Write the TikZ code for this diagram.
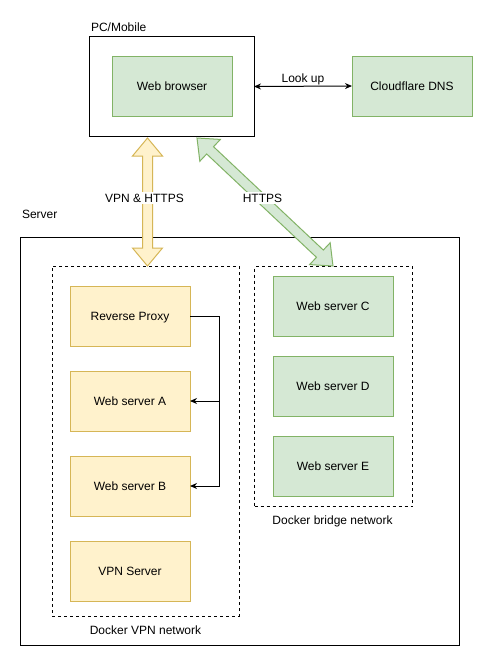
\documentclass[tikz,border=0pt]{standalone}
\usepackage{fontspec}
\setmainfont{Liberation Sans}
\usetikzlibrary{calc,arrows.meta}
\definecolor{gfill}{HTML}{D5E8D4}
\definecolor{gline}{HTML}{82B366}
\definecolor{yfill}{HTML}{FFF2CC}
\definecolor{yline}{HTML}{D6B656}
\newcommand\fatarrow[3]{%
  \coordinate (#1-a1) at ($(#1)!18pt!(#2)$);
  \coordinate (#1-b1) at ($(#2)!18pt!(#1)$);
  \filldraw[#3] (#1) -- ($(#1-a1)!15pt!90:(#2)$) -- ($(#1-a1)!5pt!90:(#2)$)
    -- ($(#1-b1)!5pt!-90:(#1)$) -- ($(#1-b1)!15pt!-90:(#1)$) -- (#2)
    -- ($(#1-b1)!15pt!90:(#1)$) -- ($(#1-b1)!5pt!90:(#1)$)
    -- ($(#1-a1)!5pt!-90:(#2)$) -- ($(#1-a1)!15pt!-90:(#2)$) -- cycle;}
\begin{document}
\begin{tikzpicture}[x=1pt,y=-1pt,
  font=\fontsize{12}{14}\selectfont,
  every node/.style={inner sep=0pt, outer sep=0pt, text height=8.6pt, text depth=0pt},
  gbox/.style={draw=gline, fill=gfill, line width=1pt, minimum width=120pt, minimum height=60pt},
  ybox/.style={draw=yline, fill=yfill, line width=1pt, minimum width=120pt, minimum height=60pt},
  net/.style={draw=black, line width=0.8pt, dash pattern=on 3pt off 3pt},
  lbl/.style={fill=white, inner sep=2pt},
  conn/.style={draw=black, line width=1pt, -{Stealth[length=7pt,width=6pt]}},
  gfat/.style={draw=gline, fill=gfill, line width=1pt, line join=miter},
  yfat/.style={draw=yline, fill=yfill, line width=1pt, line join=miter}]
\useasboundingbox (0,0) rectangle (494,667);
\fill[white] (0,0) rectangle (494,667);
% containers
\node[draw=black, line width=1pt, minimum width=165pt, minimum height=100pt] (pc) at (171.5,86.5) {};
\node[anchor=west] (pclbl) at (91,27) {PC/Mobile};
\node[draw=black, line width=1pt, minimum width=439pt, minimum height=408pt] (server) at (239.5,441) {};
\node[anchor=west] (serverlbl) at (22,214) {Server};
\node[net, minimum width=187pt, minimum height=350pt] (vpnnet) at (145.5,441) {};
\node (vpnlbl) at (145.5,630) {Docker VPN network};
\node[net, minimum width=158pt, minimum height=240pt] (brnet) at (333.5,386.5) {};
\node (brlbl) at (332.5,520) {Docker bridge network};
% nodes
\node[gbox] (wb) at (172,86) {Web browser};
\node[gbox] (dns) at (412,86) {Cloudflare DNS};
\node[ybox] (rp) at (130,316) {Reverse Proxy};
\node[ybox] (wa) at (130,401) {Web server A};
\node[ybox] (wbb) at (130,486) {Web server B};
\node[ybox] (vpn) at (130,571) {VPN Server};
\node[gbox] (wc) at (333,306) {Web server C};
\node[gbox] (wd) at (333,386) {Web server D};
\node[gbox] (we) at (333,466) {Web server E};
% connectors
\draw[line width=1pt, {Stealth[length=7pt,width=6pt]}-{Stealth[length=7pt,width=6pt]}] (pc.east) -- (dns.west)
  node[midway, above=4pt] {Look up};
\coordinate (bus) at (219,316);
\draw[conn] (rp.east) -- (bus) |- (wa.east);
\draw[conn] (bus) |- (wbb.east);
% fat arrows
\coordinate (yA) at (147.5,138);
\coordinate (yB) at (147.5,266);
\coordinate (gA) at (197,138);
\coordinate (gB) at (333,266);
\fatarrow{yA}{yB}{yfat}
\fatarrow{gA}{gB}{gfat}
\node[lbl] (l1) at (144.5,198) {VPN \& HTTPS};
\node[lbl] (l2) at (262.5,198) {HTTPS};
\end{tikzpicture}
\end{document}
